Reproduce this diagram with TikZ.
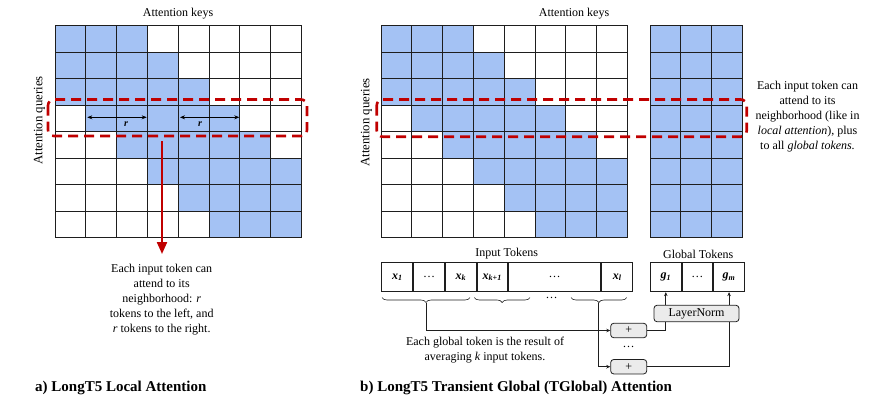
\documentclass[tikz,border=0pt]{standalone}
\usepackage{fontspec}
\setmainfont{Liberation Serif}
\usetikzlibrary{arrows.meta,decorations.pathreplacing,calc}
\definecolor{cellblue}{HTML}{A4C2F4}
\definecolor{dred}{HTML}{C00000}
\definecolor{boxgray}{HTML}{EBEBEB}
\definecolor{gridc}{HTML}{1E1E1E}
\newcommand\bandgrid[3]{% x0, y0, number of columns (band if #3=8, all blue if 3)
  \foreach \ii in {0,...,7}{%
    \foreach \jj in {1,...,#3}{%
      \pgfmathtruncatemacro\dd{abs(\ii-\jj+1)}%
      \ifnum#3=3 \def\fc{cellblue}\else
        \ifnum\dd<3 \def\fc{cellblue}\else\def\fc{white}\fi
      \fi
      \draw[gridcell, fill=\fc] ({#1+(\jj-1)*30.8},{#2+\ii*26.5}) rectangle ++(30.8,26.5);
    }%
  }%
}
\begin{document}
\begin{tikzpicture}[x=1pt,y=-1pt,
  gridcell/.style={draw=gridc, line width=0.9pt},
  lbl/.style={font=\fontsize{12}{14}\selectfont, inner sep=0pt},
  qlbl/.style={font=\fontsize{12.8}{14}\selectfont, inner sep=0pt, rotate=90},
  para/.style={font=\fontsize{12}{15}\selectfont, align=center, inner sep=0pt},
  redbox/.style={draw=dred, line width=2.6pt, dash pattern=on 10pt off 6pt, rounded corners=6pt},
  tok/.style={draw=gridc, line width=0.9pt, minimum height=29pt, inner sep=0pt, font=\fontsize{12}{14}\selectfont\bfseries\itshape},
  gbox/.style={draw=gridc, line width=0.8pt, fill=boxgray, rounded corners=3pt, inner sep=0pt, font=\fontsize{12}{14}\selectfont},
  conn/.style={draw=gridc, line width=0.8pt},
  captext/.style={font=\fontsize{15}{17}\selectfont\bfseries, inner sep=0pt, anchor=west},
  brc/.style={decorate, decoration={brace, amplitude=5pt, mirror}, draw=gridc, line width=0.6pt}
]
\useasboundingbox (0,0) rectangle (873,400);

% ---------- (a) local attention ----------
\bandgrid{55}{25.7}{8}
\node[lbl] (akeys) at (178,13.3) {Attention keys};
\node[qlbl] (aq) at (39.5,120.5) {Attention queries};
\draw[redbox] (48,99.5) rectangle (307,136);
\coordinate (rl1) at (87.3,117.3);
\coordinate (rl2) at (146.7,117.3);
\coordinate (rr1) at (180,117.3);
\coordinate (rr2) at (239.3,117.3);
\draw[{Stealth[length=5pt,width=4pt]}-{Stealth[length=5pt,width=4pt]}, line width=0.7pt, draw=black] (rl1) -- (rl2);
\draw[{Stealth[length=5pt,width=4pt]}-{Stealth[length=5pt,width=4pt]}, line width=0.7pt, draw=black] (rr1) -- (rr2);
\node[font=\fontsize{10}{12}\selectfont\bfseries\itshape, inner sep=0pt] (ra) at (126,124.5) {r};
\node[font=\fontsize{10}{12}\selectfont\bfseries\itshape, inner sep=0pt] (rb) at (200,124.5) {r};
\coordinate (astart) at (162,141);
\node[para] (atext) at (161.7,299.3) {Each input token can\\attend to its\\neighborhood: \textit{r}\\tokens to the left, and\\\textit{r} tokens to the right.};
\draw[draw=dred, line width=2.2pt, -{Triangle[length=12pt,width=10pt]}] (astart) -- (162,254);
\node[captext] (capa) at (35,387.7) {a) LongT5 Local Attention};

% ---------- (b) transient global attention ----------
\bandgrid{381}{25.7}{8}
\bandgrid{650}{25.7}{3}
\node[lbl] (bkeys) at (574,13.3) {Attention keys};
\node[qlbl] (bq) at (366.5,122.5) {Attention queries};
\draw[redbox] (376.7,99.5) rectangle (746.7,136.7);
\node[para] (btext) at (807.5,117) {Each input token can\\attend to its\\neighborhood (like in\\\textit{local attention}), plus\\to all \textit{global tokens.}};

% input tokens
\node[lbl] (intok) at (506.7,254) {Input Tokens};
\node[tok, minimum width=31pt, anchor=west] (x1) at (381.3,277.2) {x\textsubscript{1}};
\node[tok, minimum width=31pt, anchor=west] (xd1) at (x1.east) {\normalfont\fontsize{12}{14}\selectfont\dots};
\node[tok, minimum width=30.5pt, anchor=west] (xk) at (xd1.east) {x\textsubscript{k}};
\node[tok, minimum width=30.6pt, anchor=west] (xk1) at (xk.east) {x\textsubscript{k+1}};
\node[tok, minimum width=92.4pt, anchor=west] (xd2) at (xk1.east) {\normalfont\fontsize{12}{14}\selectfont\dots};
\node[tok, minimum width=31pt, anchor=west] (xl) at (xd2.east) {x\textsubscript{l}};

% global tokens
\node[lbl] (gltok) at (698.3,254) {Global Tokens};
\node[tok, minimum width=30.7pt, anchor=west] (g1) at (650,277.2) {g\textsubscript{1}};
\node[tok, minimum width=30.6pt, anchor=west] (gd) at (g1.east) {\normalfont\fontsize{12}{14}\selectfont\dots};
\node[tok, minimum width=31pt, anchor=west] (gm) at (gd.east) {g\textsubscript{m}};

% braces
\coordinate (b1l) at (382,297.5);
\coordinate (b1r) at (470,297.5);
\coordinate (b2l) at (474.3,297.5);
\coordinate (b2r) at (530,297.5);
\coordinate (b3l) at (571,297.5);
\coordinate (b3r) at (626.7,297.5);
\draw[brc] (b1l) -- (b1r);
\draw[brc] (b2l) -- (b2r);
\draw[brc] (b3l) -- (b3r);
\node[lbl] (bdots) at (551.7,298) {\dots};
\coordinate (b1tip) at ($(b1l)!0.5!(b1r)+(0,5)$);
\coordinate (b3tip) at ($(b3l)!0.5!(b3r)+(0,5)$);

% plus boxes and layer norm
\node[gbox, minimum width=36pt, minimum height=14.4pt] (p1) at (628.7,330.5) {+};
\node[gbox, minimum width=36pt, minimum height=14.4pt] (p2) at (628.7,366.7) {+};
\node[lbl] (pdots) at (628.7,346.5) {\dots};
\node[gbox, minimum width=85pt, minimum height=16.4pt] (ln) at (696.5,313.5) {LayerNorm};

\draw[conn, -{Stealth[length=4pt,width=3.5pt]}] (b1tip) |- (p1.west);
\draw[conn, -{Stealth[length=4pt,width=3.5pt]}] (b3tip) |- (p2.west);
\draw[conn] (p1.east) -| (ln.south -| g1.center);
\draw[conn] (p2.east) -| (ln.south -| gm.center);
\draw[conn, -{Stealth[length=4pt,width=3.5pt]}] (ln.north -| g1.center) -- (g1.south);
\draw[conn, -{Stealth[length=4pt,width=3.5pt]}] (ln.north -| gm.center) -- (gm.south);

\node[para] (gtext) at (485,350) {Each global token is the result of\\averaging \textit{k} input tokens.};
\node[captext] (capb) at (360,387.7) {b) LongT5 Transient Global (TGlobal) Attention};
\end{tikzpicture}
\end{document}
